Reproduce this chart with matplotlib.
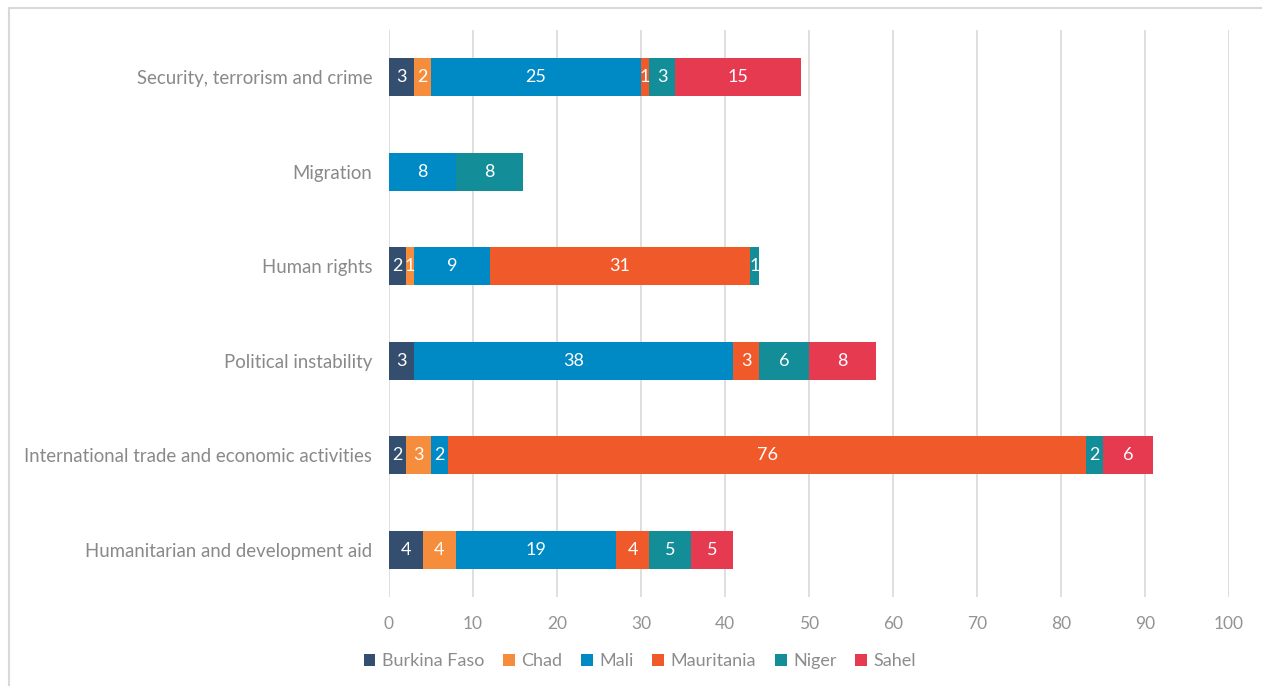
import matplotlib
matplotlib.use("Agg")
import matplotlib.pyplot as plt
from matplotlib.patches import Rectangle
import numpy as np

categories = ["Humanitarian and development aid",
              "International trade and economic activities",
              "Political instability",
              "Human rights",
              "Migration",
              "Security, terrorism and crime"]
series_names = ["Burkina Faso", "Chad", "Mali", "Mauritania", "Niger", "Sahel"]
burkina = [4, 2, 3, 2, 0, 3]
chad = [4, 3, 0, 1, 0, 2]
mali = [19, 2, 38, 9, 8, 25]
mauritania = [4, 76, 3, 31, 0, 1]
niger = [5, 2, 6, 1, 8, 3]
sahel = [5, 6, 8, 0, 0, 15]
colors = ["#334E6E", "#F58D3C", "#008AC5", "#F05A2B", "#138E98", "#E63A50"]
xticks = list(range(0, 101, 10))

plt.rcParams['font.family'] = ['Lato', 'DejaVu Sans']

fig = plt.figure(figsize=(12.62, 6.86), dpi=100)
ax = fig.add_axes([389/1262, 1-597/686, (1229-389)/1262, (597-30)/686])

data = [burkina, chad, mali, mauritania, niger, sahel]
y = np.arange(len(categories))
left = np.zeros(len(categories))
for name, vals, c in zip(series_names, data, colors):
    vals = np.array(vals, dtype=float)
    ax.barh(y, vals, left=left, height=0.4, color=c, label=name,
            edgecolor='none', zorder=3)
    for i, v in enumerate(vals):
        if v > 0:
            ax.text(left[i] + v/2, y[i], f"{int(v)}", ha='center', va='center',
                    color='white', fontsize=13, zorder=4)
    left += vals

ax.set_xlim(0, 100)
ax.set_ylim(-0.5, len(categories)-0.5)
ax.set_xticks(xticks)
ax.set_yticks(y)
ax.set_yticklabels(categories)
ax.tick_params(axis='y', length=0, pad=12, labelsize=13.4, labelcolor='#898989')
ax.tick_params(axis='x', length=0, pad=14, labelsize=12.5, labelcolor='#939393')
ax.grid(axis='x', color='#D9D9D9', linewidth=1.2, zorder=0)
for s in ax.spines.values():
    s.set_visible(False)

handles, labels = ax.get_legend_handles_labels()
leg = fig.legend(handles, labels, loc='center', bbox_to_anchor=(0.507, 1-661/686),
                 ncol=6, frameon=False, fontsize=13, handlelength=0.65,
                 handleheight=0.65, handletextpad=0.35, columnspacing=1.05)
for t in leg.get_texts():
    t.set_color('#8C8C8C')

fig.patches.append(Rectangle((8.5/1262, -0.1), 1.2, 1-8/686+0.1,
                             transform=fig.transFigure, fill=False,
                             edgecolor='#D9D9D9', linewidth=1.5))

fig.savefig("out.png", dpi=100)
